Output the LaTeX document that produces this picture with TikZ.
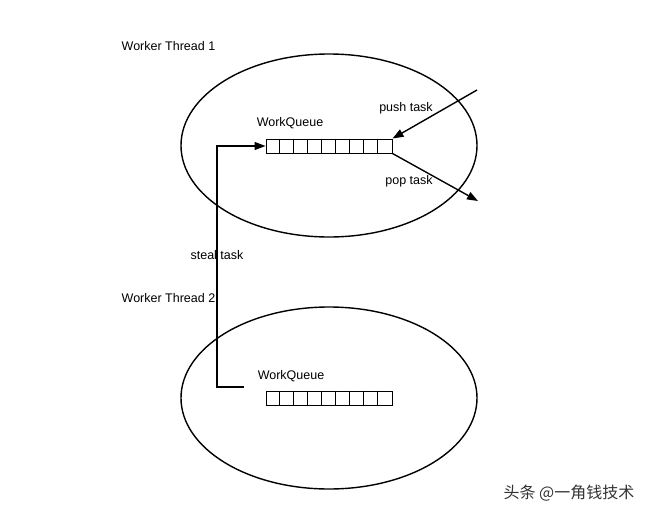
\documentclass[tikz,border=0pt]{standalone}
\usepackage{fontspec}
\setmainfont{Liberation Sans}
\newfontfamily\cjk{Noto Sans CJK SC}
\usetikzlibrary{arrows.meta, calc, positioning}

\begin{document}
\begin{tikzpicture}[x=1pt, y=-1pt, line width=1.4pt,
    font=\fontsize{12.5}{15}\selectfont,
    >={Triangle[length=11pt,width=8pt]},
    lbl/.style={inner sep=0pt},
    queue/.style={draw, line width=1pt, minimum width=126pt, minimum height=14pt, inner sep=0pt}]

      \useasboundingbox (0,0) rectangle (653,519);

      \draw (329,145.5) ellipse [x radius=148, y radius=91.5];
      \draw (329,398) ellipse [x radius=148, y radius=91];

      \node[lbl, anchor=west] (wt1) at (121,46) {Worker Thread 1};
      \node[lbl, anchor=west] (wt2) at (121,298) {Worker Thread 2};

      \node[queue] (q1) at (329,146) {};
      \node[queue] (q2) at (329,398) {};
      \foreach \i in {1,...,8}{
        \draw[line width=1pt] ($(q1.north west)+(14*\i,0)$) -- ($(q1.south west)+(14*\i,0)$);
        \draw[line width=1pt] ($(q2.north west)+(14*\i,0)$) -- ($(q2.south west)+(14*\i,0)$);
      }
      \node[lbl] (wq1) at (290,123) {WorkQueue};
      \node[lbl] (wq2) at (291,376) {WorkQueue};

      \coordinate (pushin) at (477,90);
      \coordinate (popout) at (478,201);
      \draw[->] (pushin) -- (q1.north east);
      \draw[->] (q1.south east) -- (popout);
      \node[lbl] (push) at (406,108) {push task};
      \node[lbl] (pop) at (409,181) {pop task};

      \coordinate (steal) at (244,387);
      \draw[->] (steal) -- ++(-27,0) |- (q1.west);
      \node[lbl] (st) at (217,255) {steal task};

      \node[lbl, text=black!80] (mark) at (569,493) {\fontsize{16}{19}\selectfont\cjk 头条 @一角钱技术};

    \end{tikzpicture}
\end{document}
